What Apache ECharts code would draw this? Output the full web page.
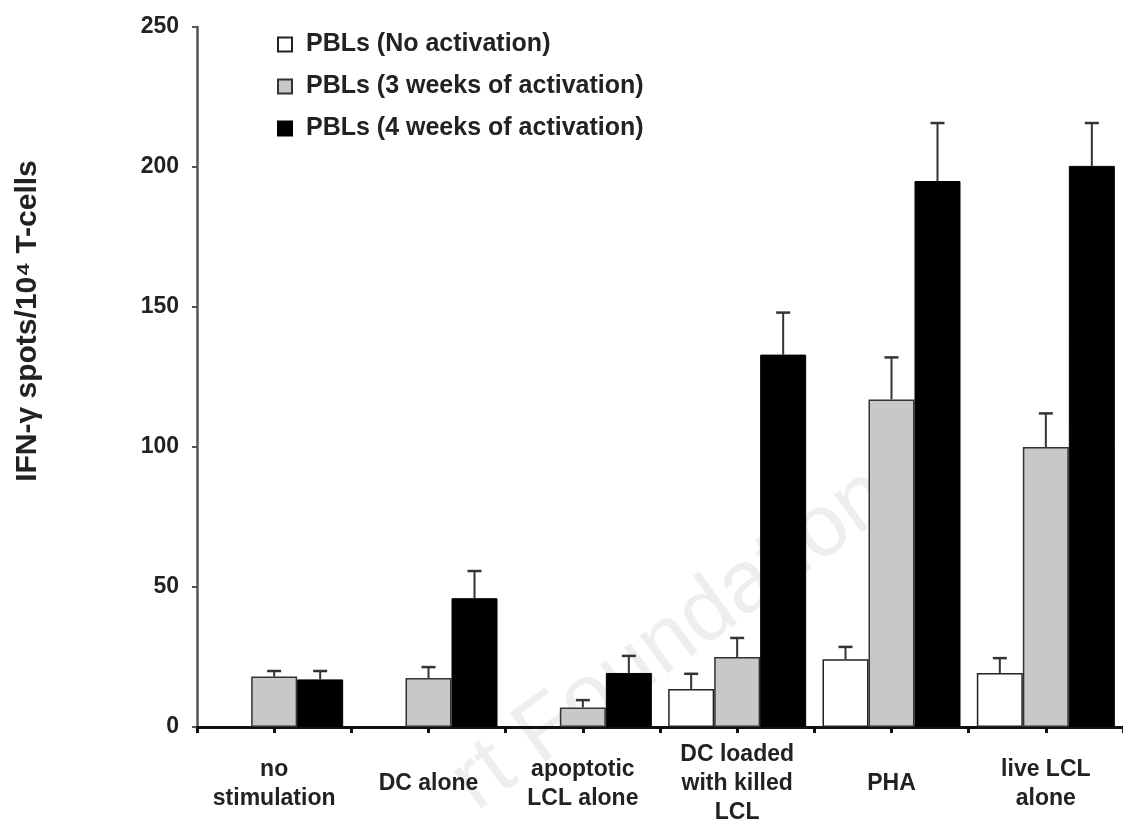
<!DOCTYPE html>
<html>
<head>
<meta charset="utf-8">
<script src="https://cdn.jsdelivr.net/npm/echarts@6/dist/echarts.min.js"></script>
<style>
  html, body { margin: 0; padding: 0; background: #fff; }
  #main { width: 1123px; height: 827px; }
</style>
</head>
<body>
<div id="main"></div>
<script>
// categories and tick labels
let categories = ['no\nstimulation', 'DC alone', 'apoptotic\nLCL alone', 'DC loaded\nwith killed\nLCL', 'PHA', 'live LCL\nalone'];
let seriesNames = ['PBLs (No activation)', 'PBLs (3 weeks of activation)', 'PBLs (4 weeks of activation)'];
// bar values
let noActivation = [null, null, null, 13.6, 24.2, 19.3];
let weeks3 = [18, 17.5, 7, 25, 117, 100];
let weeks4 = [17, 46, 19.3, 133, 195, 200.4];
// top of error bar
let noActivationErr = [null, null, null, 19, 28.6, 24.6];
let weeks3Err = [20, 21.4, 9.6, 31.8, 132, 112];
let weeks4Err = [20, 55.7, 25.4, 148, 215.7, 215.7];

const font = '"Liberation Sans", Arial, sans-serif';
const barW = 46;

const init = () => {
  let chartDom = document.getElementById('main');
  let myChart = echarts.init(chartDom);

  let values = [noActivation, weeks3, weeks4];
  let errs = [noActivationErr, weeks3Err, weeks4Err];
  let errData = [];
  values.forEach((arr, s) => {
    arr.forEach((v, i) => {
      if (v != null) errData.push([i, errs[s][i], v, s]);
    });
  });

  let barStyle = [
    { color: '#ffffff', borderColor: '#222', borderWidth: 1.5 },
    { color: '#c8c8c8', borderColor: '#333', borderWidth: 1.5 },
    { color: '#000000', borderColor: '#000', borderWidth: 1 }
  ];

  let option = {
    animation: false,
    textStyle: { fontFamily: font },
    grid: { left: 197, right: 0, top: 27, bottom: 100, outerBoundsMode: 'none', containLabel: false },
    legend: {
      orient: 'vertical',
      left: 272,
      top: 27,
      itemWidth: 14,
      itemHeight: 14,
      itemGap: 17,
      icon: 'rect',
      data: seriesNames,
      textStyle: { fontFamily: font, fontWeight: 'bold', fontSize: 25, color: '#222', padding: [0, 0, 0, 9] }
    },
    xAxis: [
      {
        type: 'category',
        data: categories,
        position: 'bottom',
        axisLine: { lineStyle: { color: '#111', width: 3 } },
        axisTick: { show: true, length: 6, lineStyle: { color: '#111', width: 3 } },
        axisLabel: {
          interval: 0,
          margin: 57,
          fontFamily: font,
          fontWeight: 'bold',
          fontSize: 23,
          lineHeight: 29,
          color: '#222',
          verticalAlign: 'middle'
        }
      },
      {
        type: 'category',
        data: categories,
        position: 'bottom',
        axisLine: { show: false },
        axisTick: { show: true, alignWithLabel: true, length: 6, lineStyle: { color: '#111', width: 3 } },
        axisLabel: { show: false }
      }
    ],
    yAxis: {
      type: 'value',
      min: 0,
      max: 250,
      interval: 50,
      axisLine: { show: true, lineStyle: { color: '#555', width: 2.5 } },
      axisTick: { show: true, length: 5, lineStyle: { color: '#555', width: 2 } },
      splitLine: { show: false },
      axisLabel: { margin: 18, fontFamily: font, fontWeight: 'bold', fontSize: 23, color: '#222' }
    },
    graphic: [
      {
        type: 'text',
        x: 28,
        y: 321,
        rotation: Math.PI / 2,
        style: {
          text: 'IFN-\u03b3 spots/10\u2074 T-cells',
          font: 'bold 30px ' + font,
          fill: '#222',
          align: 'center',
          verticalAlign: 'middle'
        }
      },
      {
        type: 'text',
        x: 672,
        y: 640,
        rotation: Math.PI / 5,
        z: -10,
        style: {
          text: 'rt Foundation',
          font: '88px ' + font,
          fill: '#eeeeee',
          align: 'center',
          verticalAlign: 'middle'
        }
      }
    ],
    series: [
      ...values.map((arr, s) => ({
        name: seriesNames[s],
        type: 'bar',
        barWidth: barW,
        barGap: '0%',
        data: arr,
        itemStyle: barStyle[s],
        z: 3
      })),
      {
        type: 'custom',
        data: errData,
        z: 4,
        silent: true,
        encode: { x: 0, y: 1 },
        renderItem: function (params, api) {
          let s = api.value(3);
          let top = api.coord([api.value(0), api.value(1)]);
          let base = api.coord([api.value(0), api.value(2)]);
          let x = top[0] + (s - 1) * barW;
          let cap = 7;
          return {
            type: 'group',
            children: [
              { type: 'line', shape: { x1: x, y1: base[1], x2: x, y2: top[1] }, style: { stroke: '#333', lineWidth: 2 } },
              { type: 'line', shape: { x1: x - cap, y1: top[1], x2: x + cap, y2: top[1] }, style: { stroke: '#333', lineWidth: 2.5 } }
            ]
          };
        }
      }
    ]
  };
  myChart.setOption(option);
};
init();
</script>
</body>
</html>
